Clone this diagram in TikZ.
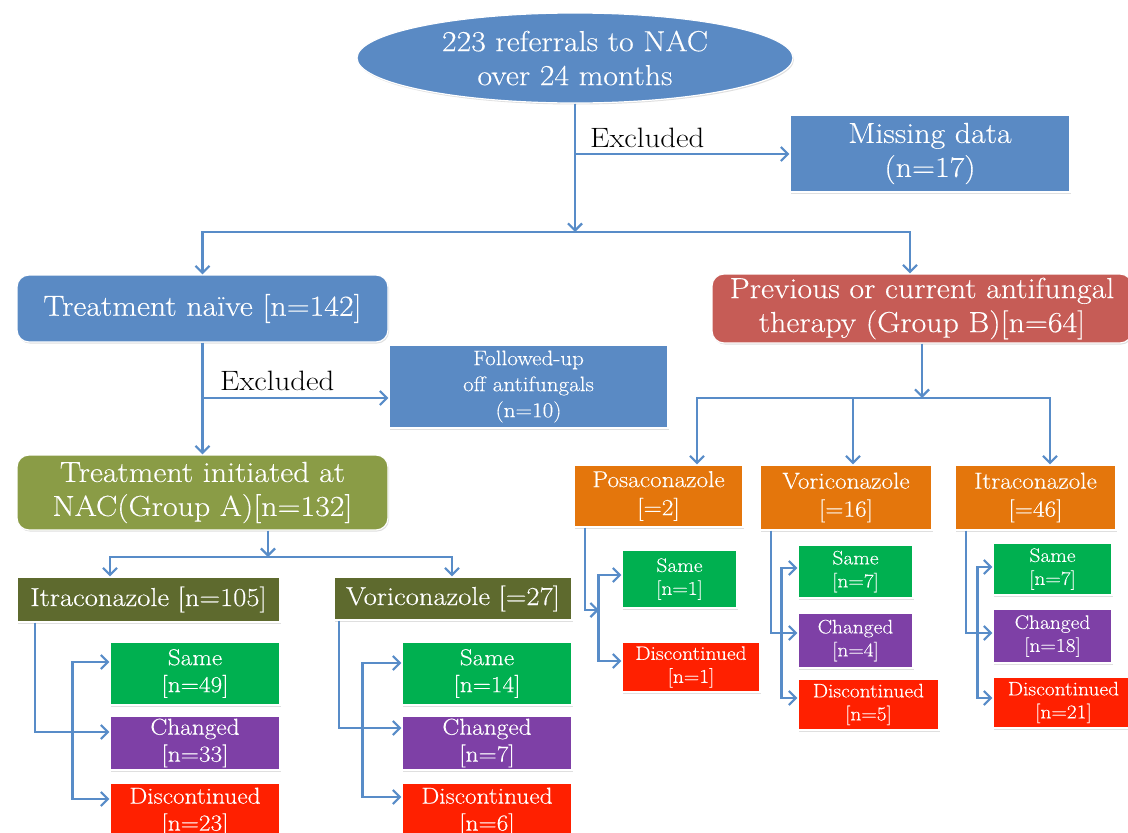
\documentclass[tikz,border=0pt]{standalone}
\usepackage{fontspec}
\setmainfont{Latin Modern Roman}[FakeStretch=1.1, FakeBold=0.3]
\newfontfamily\exclfont{Latin Modern Roman}[FakeStretch=1.1]
\usetikzlibrary{arrows.meta,shapes.geometric,shadows}
\definecolor{ln}{RGB}{88,140,200}
\definecolor{bluebox}{RGB}{90,138,196}
\definecolor{redbox}{RGB}{198,92,86}
\definecolor{greenA}{RGB}{138,156,70}
\definecolor{olive}{RGB}{94,106,46}
\definecolor{orng}{RGB}{228,118,12}
\definecolor{samec}{RGB}{0,176,80}
\definecolor{chgc}{RGB}{126,64,166}
\definecolor{discc}{RGB}{255,32,0}
\begin{document}
\begin{tikzpicture}[x=1pt,y=-1pt,
  box/.style={draw=white, line width=1.2pt, text=white, align=center, inner sep=0pt,
    drop shadow={opacity=0.25, shadow xshift=1pt, shadow yshift=-1.5pt}},
  rbox/.style={box, rounded corners=12pt},
  big/.style={font=\fontsize{29}{34}\selectfont},
  mid/.style={font=\fontsize{26}{31}\selectfont},
  sml/.style={font=\fontsize{23}{27}\selectfont},
  orf/.style={font=\fontsize{23}{28}\selectfont},
  tiny/.style={font=\fontsize{19.5}{23}\selectfont},
  fol/.style={font=\fontsize{21}{26}\selectfont},
  excl/.style={font=\exclfont\fontsize{28}{32}\selectfont, text=black, inner sep=0pt, anchor=base west},
  conn/.style={draw=ln, line width=2.2pt, -{Straight Barb[length=7pt,width=14pt]}},
  conn2/.style={draw=ln, line width=2.2pt, {Straight Barb[length=7pt,width=14pt]}-{Straight Barb[length=7pt,width=14pt]}},
  plain/.style={draw=ln, line width=2.2pt}]
\fill[white] (0,0) rectangle (1128,833);
\useasboundingbox (0,0) rectangle (1128,833);

% top level
\node[box, ellipse, fill=bluebox, minimum width=436pt, minimum height=90pt, big] (top) at (575,58) {223 referrals to NAC\\over 24 months};
\node[box, fill=bluebox, minimum width=280pt, minimum height=77pt, big] (miss) at (930,153.5) {Missing data\\(n=17)};
\node[rbox, fill=bluebox, minimum width=371pt, minimum height=67pt, big] (naive) at (202.5,308.5) {Treatment naïve [n=142]};
\node[rbox, fill=redbox, minimum width=420pt, minimum height=69pt, big] (prev) at (922,308.5) {Previous or current antifungal\\therapy (Group B)[n=64]};
\node[box, fill=bluebox, minimum width=279pt, minimum height=83pt, fol] (foll) at (528.5,386.5) {Followed-up\\off antifungals\\(n=10)};
\node[rbox, fill=greenA, minimum width=371pt, minimum height=75pt, big] (grn) at (202.5,492.5) {Treatment initiated at\\NAC(Group A)[n=132]};

\node[excl] (ex1) at (590,147) {Excluded};
\node[excl] (ex2) at (220,390) {Excluded};

% group A
\node[box, fill=olive, minimum width=263pt, minimum height=45pt, mid] (itraA) at (148.5,599.5) {Itraconazole [n=105]};
\node[box, fill=olive, minimum width=238pt, minimum height=43pt, mid] (voriA) at (453,598.5) {Voriconazole [=27]};
\node[box, fill=samec, minimum width=170pt, minimum height=63pt, sml] (sameA1) at (195,673.5) {Same\\{}[n=49]};
\node[box, fill=chgc, minimum width=170pt, minimum height=54pt, sml] (chgA1) at (195,743) {Changed\\{}[n=33]};
\node[box, fill=discc, minimum width=170pt, minimum height=58pt, sml] (discA1) at (195,812) {Discontinued\\{}[n=23]};
\node[box, fill=samec, minimum width=170pt, minimum height=63pt, sml] (sameA2) at (487,673.5) {Same\\{}[n=14]};
\node[box, fill=chgc, minimum width=170pt, minimum height=54pt, sml] (chgA2) at (487,743) {Changed\\{}[n=7]};
\node[box, fill=discc, minimum width=170pt, minimum height=58pt, sml] (discA2) at (487,812) {Discontinued\\{}[n=6]};

% group B
\node[box, fill=orng, minimum width=169pt, minimum height=62pt, orf] (posa) at (658.5,496) {Posaconazole\\{}[=2]};
\node[box, fill=orng, minimum width=172pt, minimum height=65pt, orf] (voriB) at (846,497.5) {Voriconazole\\{}[=16]};
\node[box, fill=orng, minimum width=161pt, minimum height=65pt, orf] (itraB) at (1035.5,497.5) {Itraconazole\\{}[=46]};
\node[box, fill=samec, minimum width=115pt, minimum height=58pt, tiny] (sameP) at (679.5,579) {Same\\{}[n=1]};
\node[box, fill=discc, minimum width=138pt, minimum height=50pt, tiny] (discP) at (691,667) {Discontinued\\{}[n=1]};
\node[box, fill=samec, minimum width=115pt, minimum height=53pt, tiny] (sameV) at (855.5,571.5) {Same\\{}[n=7]};
\node[box, fill=chgc, minimum width=115pt, minimum height=55pt, tiny] (chgV) at (855.5,640.5) {Changed\\{}[n=4]};
\node[box, fill=discc, minimum width=141pt, minimum height=51pt, tiny] (discV) at (868.5,704.5) {Discontinued\\{}[n=5]};
\node[box, fill=samec, minimum width=119pt, minimum height=52pt, tiny] (sameI) at (1052.5,569) {Same\\{}[n=7]};
\node[box, fill=chgc, minimum width=119pt, minimum height=54pt, tiny] (chgI) at (1052.5,636) {Changed\\{}[n=18]};
\node[box, fill=discc, minimum width=141pt, minimum height=51pt, tiny] (discI) at (1063.5,702.5) {Discontinued\\{}[n=21]};

% junctions
\coordinate (j1) at (575,232);
\coordinate (e1) at (575,154);
\coordinate (e2) at (202.5,398);
\coordinate (j2) at (268,557);
\coordinate (j3) at (922,398);
\coordinate (pb) at ([xshift=-12pt]prev.north);
\coordinate (ia) at ([xshift=-38.5pt]itraA.north);
\coordinate (va) at ([xshift=-1pt]voriA.north);
\coordinate (pa) at ([xshift=38.5pt]posa.north);
\coordinate (vb) at ([xshift=7pt]voriB.north);
\coordinate (ib) at ([xshift=14.5pt]itraB.north);
\coordinate (bP) at (599,610);

% connectors top
\draw[conn] (top) -- (j1);
\draw[conn] (e1) -- (e1 -| miss.west);
\draw[conn] (j1) -| (naive.north);
\draw[conn] (j1) -| (pb);
\draw[conn] (naive) -- (grn);
\draw[conn] (e2) -- (e2 -| foll.west);

% group A connectors
\draw[conn] (grn.south -| j2) -- (j2);
\draw[conn] (j2) -| (ia);
\draw[conn] (j2) -| (va);
\draw[conn] ([xshift=-113.5pt]itraA.south) |- ([yshift=11pt]chgA1.west);
\draw[conn2] ([yshift=11.5pt]sameA1.west) -- ++(-37,0) |- ([yshift=13pt]discA1.west);
\draw[conn] ([xshift=-114pt]voriA.south) |- ([yshift=15pt]chgA2.west);
\draw[conn2] ([yshift=10.5pt]sameA2.west) -- ++(-39,0) |- ([yshift=15pt]discA2.west);

% group B connectors
\draw[conn] (prev.south -| j3) -- (j3);
\draw[conn] (j3) -| (pa);
\draw[conn] (j3) -| (ib);
\draw[conn] (vb |- j3) -- (vb);
\draw[conn] ([xshift=-73.5pt]posa.south) |- (bP);
\draw[conn2] ([yshift=4pt]sameP.west) -- ++(-23,0) |- ([yshift=6pt]discP.west);
\draw[conn] ([xshift=-75pt]voriB.south) |- ([yshift=7.5pt]chgV.west);
\draw[conn2] ([yshift=3.5pt]sameV.west) -- ++(-16,0) |- ([yshift=6.5pt]discV.west);
\draw[conn] ([xshift=-69.5pt]itraB.south) |- ([yshift=3pt]chgI.west);
\draw[conn2] ([yshift=2pt]sameI.west) -- ++(-15,0) |- ([yshift=4.5pt]discI.west);
\end{tikzpicture}
\end{document}
